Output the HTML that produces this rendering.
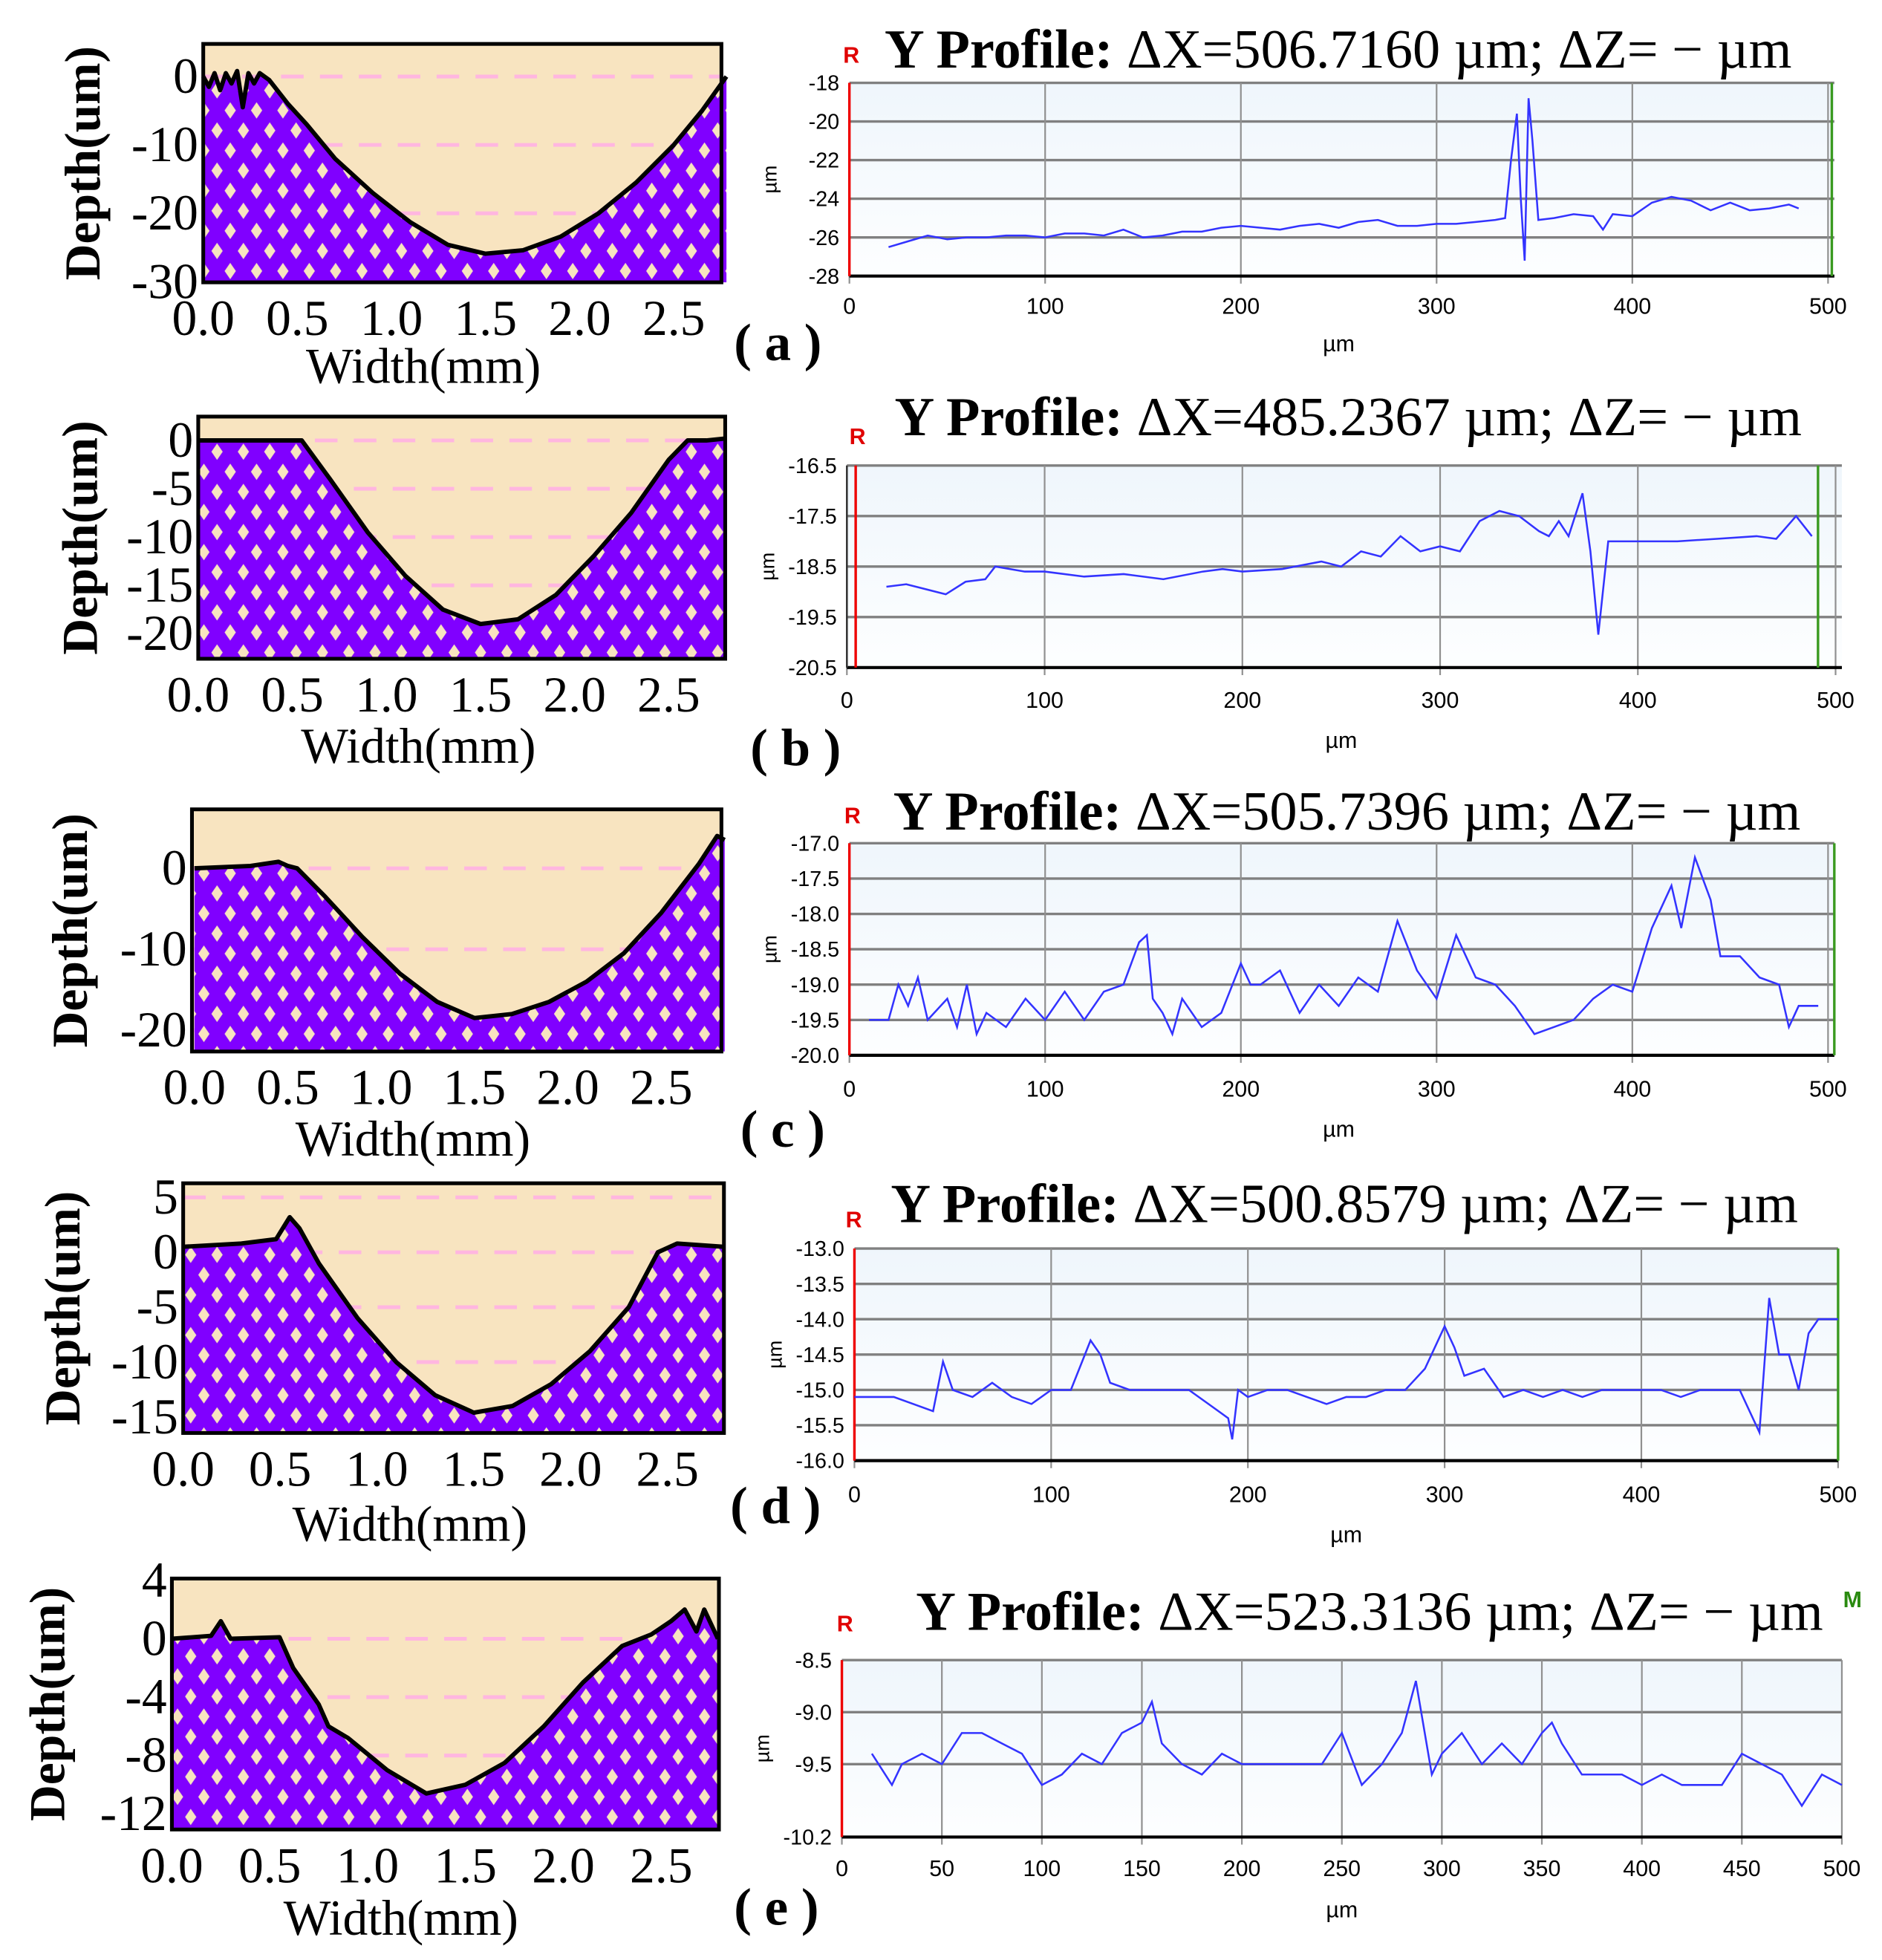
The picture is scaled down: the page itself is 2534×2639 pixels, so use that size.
<!DOCTYPE html>
<html><head><meta charset="utf-8"><style>
html,body{margin:0;padding:0;background:#fff;}
svg{display:block;}
</style></head><body>
<svg id="fig" xmlns="http://www.w3.org/2000/svg" width="2534" height="2639" viewBox="0 0 1500 1562" preserveAspectRatio="none">
<defs>
<pattern id="dia" patternUnits="userSpaceOnUse" width="21" height="32" x="0" y="0">
<rect width="21" height="32" fill="#8000FF"/>
<polygon points="5,1.5 9.5,8 5,14.5 0.5,8" fill="#F8E4C0"/>
<polygon points="15.5,17.5 20,24 15.5,30.5 11,24" fill="#F8E4C0"/>
</pattern>
<linearGradient id="bg" x1="0" y1="0" x2="0" y2="1"><stop offset="0" stop-color="#EFF6FC"/><stop offset="1" stop-color="#FDFEFF"/></linearGradient>
</defs>
</svg>
<script>
// ---- left depth profiles (x in mm, depth in um)
const depthA = [[0,0],[0.03,-1.5],[0.06,0.5],[0.09,-2],[0.12,0.5],[0.15,-1],[0.18,0.8],[0.21,-4.5],[0.24,0.5],[0.27,-1],[0.3,0.5],[0.35,-0.5],[0.45,-4],[0.55,-7],[0.7,-12],[0.9,-17],[1.1,-21.3],[1.3,-24.6],[1.5,-25.9],[1.7,-25.4],[1.9,-23.4],[2.1,-20],[2.3,-15.5],[2.5,-10],[2.65,-5],[2.78,0]];
const depthB = [[0,0],[0.3,0],[0.55,0],[0.7,-4],[0.9,-9.5],[1.1,-14],[1.3,-17.5],[1.5,-19],[1.7,-18.5],[1.9,-16],[2.1,-12],[2.3,-7.5],[2.5,-2],[2.6,0],[2.7,0],[2.8,0.2]];
const depthC = [[0,0],[0.3,0.3],[0.45,0.8],[0.5,0.3],[0.55,0],[0.7,-3.5],[0.9,-8.5],[1.1,-13],[1.3,-16.5],[1.5,-18.5],[1.7,-18],[1.9,-16.5],[2.1,-14],[2.3,-10.5],[2.5,-5.5],[2.7,0.5],[2.8,4],[2.84,3.5]];
const depthD = [[0,0.5],[0.3,0.8],[0.48,1.2],[0.55,3.2],[0.6,2.2],[0.7,-1],[0.9,-6],[1.1,-10],[1.3,-13],[1.5,-14.6],[1.7,-14],[1.9,-12],[2.1,-9],[2.3,-5],[2.45,0],[2.55,0.8],[2.79,0.5]];
const depthE = [[0,0],[0.2,0.2],[0.25,1.2],[0.3,0],[0.55,0.1],[0.62,-2],[0.75,-4.5],[0.8,-6],[0.9,-6.8],[1.1,-9],[1.3,-10.6],[1.5,-10],[1.7,-8.5],[1.9,-6],[2.1,-3],[2.3,-0.5],[2.45,0.3],[2.55,1.2],[2.62,2],[2.68,0.5],[2.72,2],[2.79,0]];
const leftYTicksA = [0,-10,-20,-30];
const leftYTicksB = [0,-5,-10,-15,-20];
const leftYTicksC = [0,-10,-20];
const leftYTicksD = [5,0,-5,-10,-15];
const leftYTicksE = [4,0,-4,-8,-12];
const widthTicks = [0.0,0.5,1.0,1.5,2.0,2.5];

// ---- right Y profiles (x in um, z in um)
const profA = [[20,-26.5],[30,-26.2],[40,-25.9],[50,-26.1],[60,-26.0],[70,-26.0],[80,-25.9],[90,-25.9],[100,-26.0],[110,-25.8],[120,-25.8],[130,-25.9],[140,-25.6],[150,-26.0],[160,-25.9],[170,-25.7],[180,-25.7],[190,-25.5],[200,-25.4],[210,-25.5],[220,-25.6],[230,-25.4],[240,-25.3],[250,-25.5],[260,-25.2],[270,-25.1],[280,-25.4],[290,-25.4],[300,-25.3],[310,-25.3],[320,-25.2],[330,-25.1],[335,-25.0],[338,-22],[341,-19.6],[343,-24],[345,-27.2],[347,-18.8],[349,-21],[352,-25.1],[360,-25.0],[370,-24.8],[380,-24.9],[385,-25.6],[390,-24.8],[400,-24.9],[410,-24.2],[420,-23.9],[430,-24.1],[440,-24.6],[450,-24.2],[460,-24.6],[470,-24.5],[480,-24.3],[485,-24.5]];
const profB = [[20,-18.9],[30,-18.85],[40,-18.95],[50,-19.05],[60,-18.8],[70,-18.75],[75,-18.5],[90,-18.6],[100,-18.6],[120,-18.7],[140,-18.65],[160,-18.75],[180,-18.6],[190,-18.55],[200,-18.6],[220,-18.55],[240,-18.4],[250,-18.5],[260,-18.2],[270,-18.3],[280,-17.9],[290,-18.2],[300,-18.1],[310,-18.2],[320,-17.6],[330,-17.4],[340,-17.5],[350,-17.8],[355,-17.9],[360,-17.6],[365,-17.9],[372,-17.05],[376,-18.2],[380,-19.85],[385,-18.0],[400,-18.0],[420,-18.0],[440,-17.95],[460,-17.9],[470,-17.95],[480,-17.5],[488,-17.9]];
const profC = [[10,-19.5],[20,-19.5],[25,-19.0],[30,-19.3],[35,-18.9],[40,-19.5],[50,-19.2],[55,-19.6],[60,-19.0],[65,-19.7],[70,-19.4],[80,-19.6],[90,-19.2],[100,-19.5],[110,-19.1],[120,-19.5],[130,-19.1],[140,-19.0],[148,-18.4],[152,-18.3],[155,-19.2],[160,-19.4],[165,-19.7],[170,-19.2],[180,-19.6],[190,-19.4],[200,-18.7],[205,-19.0],[210,-19.0],[220,-18.8],[230,-19.4],[240,-19.0],[250,-19.3],[260,-18.9],[270,-19.1],[280,-18.1],[290,-18.8],[300,-19.2],[310,-18.3],[320,-18.9],[330,-19.0],[340,-19.3],[350,-19.7],[360,-19.6],[370,-19.5],[380,-19.2],[390,-19.0],[400,-19.1],[410,-18.2],[420,-17.6],[425,-18.2],[432,-17.2],[440,-17.8],[445,-18.6],[455,-18.6],[465,-18.9],[475,-19.0],[480,-19.6],[485,-19.3],[495,-19.3]];
const profD = [[0,-15.1],[20,-15.1],[30,-15.2],[40,-15.3],[45,-14.6],[50,-15.0],[60,-15.1],[70,-14.9],[80,-15.1],[90,-15.2],[100,-15.0],[110,-15.0],[120,-14.3],[125,-14.5],[130,-14.9],[140,-15.0],[150,-15.0],[160,-15.0],[170,-15.0],[180,-15.2],[190,-15.4],[192,-15.7],[195,-15.0],[200,-15.1],[210,-15.0],[220,-15.0],[230,-15.1],[240,-15.2],[250,-15.1],[260,-15.1],[270,-15.0],[280,-15.0],[290,-14.7],[300,-14.1],[305,-14.4],[310,-14.8],[320,-14.7],[330,-15.1],[340,-15.0],[350,-15.1],[360,-15.0],[370,-15.1],[380,-15.0],[390,-15.0],[400,-15.0],[410,-15.0],[420,-15.1],[430,-15.0],[440,-15.0],[450,-15.0],[460,-15.6],[465,-13.7],[470,-14.5],[475,-14.5],[480,-15.0],[485,-14.2],[490,-14.0],[500,-14.0]];
const profE = [[15,-9.4],[25,-9.7],[30,-9.5],[40,-9.4],[50,-9.5],[60,-9.2],[70,-9.2],[80,-9.3],[90,-9.4],[100,-9.7],[110,-9.6],[120,-9.4],[130,-9.5],[140,-9.2],[150,-9.1],[155,-8.9],[160,-9.3],[170,-9.5],[180,-9.6],[190,-9.4],[200,-9.5],[210,-9.5],[220,-9.5],[230,-9.5],[240,-9.5],[250,-9.2],[260,-9.7],[270,-9.5],[280,-9.2],[287,-8.7],[295,-9.6],[300,-9.4],[310,-9.2],[320,-9.5],[330,-9.3],[340,-9.5],[350,-9.2],[355,-9.1],[360,-9.3],[370,-9.6],[380,-9.6],[390,-9.6],[400,-9.7],[410,-9.6],[420,-9.7],[430,-9.7],[440,-9.7],[450,-9.4],[460,-9.5],[470,-9.6],[480,-9.9],[490,-9.6],[500,-9.7]];
const rYTicksA = [-18,-20,-22,-24,-26,-28];
const rYTicksB = [-16.5,-17.5,-18.5,-19.5,-20.5];
const rYTicksC = [-17.0,-17.5,-18.0,-18.5,-19.0,-19.5,-20.0];
const rYTicksD = [-13.0,-13.5,-14.0,-14.5,-15.0,-15.5,-16.0];
const rYTicksE = [-8.5,-9.0,-9.5,-10.2];
const rXTicks = [0,100,200,300,400,500];
const rXTicksE = [0,50,100,150,200,250,300,350,400,450,500];
const titles = ["506.7160","485.2367","505.7396","500.8579","523.3136"];

const NS="http://www.w3.org/2000/svg";
const svg=document.getElementById('fig');
function mk(tag,attrs,parent,txt){const e=document.createElementNS(NS,tag);for(const k in attrs)e.setAttribute(k,attrs[k]);if(txt!==undefined)e.textContent=txt;(parent||svg).appendChild(e);return e;}

const leftCfg=[
 {id:'a',bx1:162,by1:35,bx2:575,by2:225,x0:162,sx:150,yZ:61,sy:5.45,ticks:leftYTicksA,data:depthA,lx:66,wy:293,py:273,plx:585},
 {id:'b',bx1:158,by1:332,bx2:578,by2:525,x0:158,sx:150,yZ:351,sy:7.7,ticks:leftYTicksB,data:depthB,lx:64,wy:596,py:596,plx:598},
 {id:'c',bx1:153,by1:645,bx2:575,by2:838,x0:155,sx:148.8,yZ:692,sy:6.45,ticks:leftYTicksC,data:depthC,lx:56,wy:909,py:900,plx:590},
 {id:'d',bx1:146,by1:943,bx2:577,by2:1142,x0:146,sx:154.4,yZ:998,sy:8.75,ticks:leftYTicksD,data:depthD,lx:50,wy:1216,py:1200,plx:582},
 {id:'e',bx1:137,by1:1258,bx2:573,by2:1458,x0:137,sx:156,yZ:1306,sy:11.63,ticks:leftYTicksE,data:depthE,lx:38,wy:1530,py:1520,plx:585}
];
leftCfg.forEach((c,i)=>{
 const g=mk('g',{});
 
 
 const X=v=>c.x0+v*c.sx, Y=v=>c.yZ-v*c.sy;
 const bg=mk('rect',{x:c.bx1,y:c.by1,width:c.bx2-c.bx1,height:c.by2-c.by1,fill:'#F8E4C0'},g);
 
 
 c.ticks.forEach(t=>{const y=Y(t);if(y>c.by1+4&&y<c.by2-4){const l=mk('line',{x1:c.bx1,x2:c.bx2,y1:y,y2:y,stroke:'#FFB6E0','stroke-width':3,'stroke-dasharray':'18,13'},g);
  
  }});
 const pts=c.data.map(p=>X(p[0]).toFixed(1)+','+Y(p[1]).toFixed(1));
 const last=c.data[c.data.length-1];
 const fill=mk('polygon',{points:X(0)+','+c.by2+' '+pts.join(' ')+' '+X(last[0])+','+c.by2+' '+c.bx2+','+c.by2,fill:'url(#dia)'},g);
 
 
 const ln=mk('polyline',{points:pts.join(' '),fill:'none',stroke:'#000','stroke-width':3.5,'stroke-linejoin':'round'},g);
 
 
 const bx=mk('rect',{x:c.bx1,y:c.by1,width:c.bx2-c.bx1,height:c.by2-c.by1,fill:'none',stroke:'#000','stroke-width':3},g);
 
 
 c.ticks.forEach(t=>{const tl=mk('text',{x:c.bx1-4,y:Y(t)+13,'text-anchor':'end','font-family':'Liberation Serif, serif','font-size':40},g,String(t));
  
  });
 widthTicks.forEach(t=>{const tl=mk('text',{x:X(t),y:c.by2+42,'text-anchor':'middle','font-family':'Liberation Serif, serif','font-size':40},g,t.toFixed(1));
  
  });
 const cy=(c.by1+c.by2)/2;
 const yt=mk('text',{x:c.lx,y:cy,transform:'rotate(-90 '+c.lx+' '+cy+')','text-anchor':'middle','dominant-baseline':'central','font-family':'Liberation Serif, serif','font-size':40,'font-weight':'bold'},g,'Depth(um)');
 
 
 const xt=mk('text',{x:X(1.17),y:c.wy+12,'text-anchor':'middle','font-family':'Liberation Serif, serif','font-size':40},g,'Width(mm)');
 
 
 const pl=mk('text',{x:c.plx,y:c.py+14,'font-family':'Liberation Serif, serif','font-size':42,'font-weight':'bold'},g,'( '+c.id+' )');
 
 
});

const rightCfg=[
 {id:'a',px1:677,px2:1457,pr:1462,py1:66,py2:220,ymax:-18,ymin:-28,yt:rYTicksA,dec:0,xt:rXTicks,data:profA,ty:40,tx:705,rx:672,ry:50,red:677,green:1460,xl:250,ul:280},
 {id:'b',px1:675,px2:1463,pr:1468,py1:371,py2:532,ymax:-16.5,ymin:-20.5,yt:rYTicksB,dec:1,xt:rXTicks,data:profB,ty:333,tx:713,rx:677,ry:354,red:682,green:1449,xl:564,ul:596},
 {id:'c',px1:677,px2:1457,pr:1462,py1:672,py2:841,ymax:-17,ymin:-20,yt:rYTicksC,dec:1,xt:rXTicks,data:profC,ty:647,tx:712,rx:673,ry:656,red:677,green:1462,xl:874,ul:906},
 {id:'d',px1:681,px2:1465,pr:1465,py1:995,py2:1164,ymax:-13,ymin:-16,yt:rYTicksD,dec:1,xt:rXTicks,data:profD,ty:960,tx:710,rx:674,ry:978,red:681,green:1465,xl:1197,ul:1229},
 {id:'e',px1:671,px2:1468,pr:1468,py1:1323,py2:1464,ymax:-8.5,ymin:-10.2,yt:rYTicksE,dec:1,xt:rXTicksE,data:profE,ty:1285,tx:730,rx:667,ry:1300,red:671,green:null,xl:1495,ul:1528}
];
rightCfg.forEach((c,i)=>{
 const g=mk('g',{});
 
 
 const X=v=>c.px1+v/500*(c.px2-c.px1), Y=v=>c.py1+(c.ymax-v)/(c.ymax-c.ymin)*(c.py2-c.py1);
 const bg=mk('rect',{x:c.px1,y:c.py1,width:c.pr-c.px1,height:c.py2-c.py1,fill:'url(#bg)'},g);
 
 
 c.yt.forEach(t=>{const l=mk('line',{x1:c.px1,x2:c.pr,y1:Y(t),y2:Y(t),stroke:'#808080','stroke-width':2},g);
  
  
  const tl=mk('text',{x:c.px1-8,y:Y(t)+6,'text-anchor':'end','font-family':'Liberation Sans, sans-serif','font-size':17},g,t.toFixed(c.dec));
  
  });
 c.xt.forEach(t=>{const l=mk('line',{x1:X(t),x2:X(t),y1:c.py1,y2:c.py2+6,stroke:'#909090','stroke-width':1.3},g);
  
  
  const tl=mk('text',{x:X(t),y:c.xl,'text-anchor':'middle','font-family':'Liberation Sans, sans-serif','font-size':18},g,String(t));
  
  });
 const ax=mk('line',{x1:c.px1,x2:c.pr,y1:c.py2,y2:c.py2,stroke:'#000','stroke-width':2.5},g);
 
 
 const ay=mk('line',{x1:c.px1,x2:c.px1,y1:c.py1,y2:c.py2,stroke:'#333','stroke-width':1.5},g);
 
 
 if(c.red!==null){const r=mk('line',{x1:c.red,x2:c.red,y1:c.py1,y2:c.py2,stroke:'#E00','stroke-width':2},g);
  
  }
 if(c.green!==null){const r=mk('line',{x1:c.green,x2:c.green,y1:c.py1,y2:c.py2,stroke:'#3A9A20','stroke-width':2},g);
  
  }
 const ln=mk('polyline',{points:c.data.map(p=>X(p[0]).toFixed(1)+','+Y(p[1]).toFixed(1)).join(' '),fill:'none',stroke:'#3333FF','stroke-width':1.5},g);
 
 
 const t=mk('text',{x:c.tx,y:c.ty+14,'font-family':'Liberation Serif, serif','font-size':44},g);
 
 
 mk('tspan',{'font-weight':'bold'},t,'Y Profile: ');
 mk('tspan',{},t,'\u0394X='+titles[i]+' \u00b5m; \u0394Z= \u2212 \u00b5m');
 const rl=mk('text',{x:c.rx,y:c.ry,'font-family':'Liberation Sans, sans-serif','font-size':18,'font-weight':'bold',fill:'#E00000'},g,'R');
 
 
 const ul=mk('text',{x:(c.px1+c.px2)/2,y:c.ul,'text-anchor':'middle','font-family':'Liberation Sans, sans-serif','font-size':18},g,'\u00b5m');
 
 
 const um=mk('text',{x:c.px1-58,y:(c.py1+c.py2)/2,transform:'rotate(-90 '+(c.px1-58)+' '+(c.py1+c.py2)/2+')','text-anchor':'middle','font-family':'Liberation Sans, sans-serif','font-size':16},g,'\u00b5m');
 
 
 if(c.id==='e'){const m=mk('text',{x:1469,y:1281,'font-family':'Liberation Sans, sans-serif','font-size':18,'font-weight':'bold',fill:'#2A8A10'},g,'M');
  
  }
});
</script>
</body></html>
